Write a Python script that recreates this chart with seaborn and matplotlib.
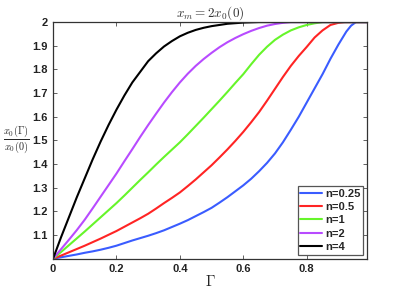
import numpy as np
import pandas as pd
import matplotlib
matplotlib.use('Agg')
import matplotlib.pyplot as plt
import seaborn as sns

# DATA

labels = ['n=0.25', 'n=0.5', 'n=1', 'n=2', 'n=4']
colors = ['#3a5cff', '#ff2424', '#66f52a', '#b84bff', '#000000']

g_025 = [0, 0.025, 0.05, 0.075, 0.1, 0.125, 0.15, 0.175, 0.2, 0.225, 0.25, 0.275, 0.3,
         0.325, 0.35, 0.375, 0.4, 0.425, 0.45, 0.475, 0.5, 0.525, 0.55, 0.575, 0.6,
         0.625, 0.65, 0.675, 0.7, 0.725, 0.75, 0.775, 0.8, 0.825, 0.85, 0.875, 0.9,
         0.925, 0.94, 0.955, 0.99]
v_025 = [1.0, 1.006, 1.012, 1.018, 1.025, 1.031, 1.038, 1.046, 1.055, 1.066, 1.077,
         1.087, 1.097, 1.108, 1.12, 1.134, 1.148, 1.163, 1.18, 1.197, 1.215, 1.237,
         1.26, 1.285, 1.31, 1.338, 1.37, 1.405, 1.445, 1.492, 1.545, 1.6, 1.66, 1.72,
         1.78, 1.845, 1.905, 1.96, 1.985, 2.0, 2.0]

g_05 = [0, 0.025, 0.05, 0.075, 0.1, 0.125, 0.15, 0.175, 0.2, 0.225, 0.25, 0.275, 0.3,
        0.325, 0.35, 0.375, 0.4, 0.425, 0.45, 0.475, 0.5, 0.525, 0.55, 0.575, 0.6,
        0.625, 0.65, 0.675, 0.7, 0.725, 0.75, 0.775, 0.8, 0.825, 0.85, 0.875, 0.9,
        0.92, 0.99]
v_05 = [1.0, 1.013, 1.027, 1.041, 1.055, 1.07, 1.085, 1.101, 1.117, 1.135, 1.153,
        1.171, 1.19, 1.212, 1.235, 1.257, 1.28, 1.307, 1.335, 1.365, 1.395, 1.428,
        1.462, 1.498, 1.536, 1.577, 1.62, 1.668, 1.718, 1.768, 1.815, 1.857, 1.895,
        1.935, 1.965, 1.988, 1.997, 2.0, 2.0]

g_1 = [0, 0.025, 0.05, 0.075, 0.1, 0.125, 0.15, 0.175, 0.2, 0.225, 0.25, 0.275, 0.3,
       0.325, 0.35, 0.375, 0.4, 0.425, 0.45, 0.475, 0.5, 0.525, 0.55, 0.575, 0.6,
       0.625, 0.65, 0.675, 0.7, 0.725, 0.75, 0.775, 0.8, 0.825, 0.85, 0.99]
v_1 = [1.0, 1.028, 1.057, 1.086, 1.115, 1.145, 1.175, 1.205, 1.235, 1.267, 1.30,
       1.333, 1.365, 1.398, 1.43, 1.461, 1.492, 1.526, 1.561, 1.596, 1.632, 1.668,
       1.705, 1.743, 1.78, 1.822, 1.862, 1.896, 1.925, 1.947, 1.965, 1.978, 1.988,
       1.995, 2.0, 2.0]

g_2 = [0, 0.025, 0.05, 0.075, 0.1, 0.125, 0.15, 0.175, 0.2, 0.225, 0.25, 0.275, 0.3,
       0.325, 0.35, 0.375, 0.4, 0.425, 0.45, 0.475, 0.5, 0.525, 0.55, 0.575, 0.6,
       0.625, 0.65, 0.675, 0.7, 0.725, 0.75, 0.99]
v_2 = [1.0, 1.04, 1.08, 1.121, 1.165, 1.213, 1.262, 1.311, 1.36, 1.412, 1.463, 1.515,
       1.565, 1.613, 1.66, 1.704, 1.745, 1.782, 1.815, 1.844, 1.87, 1.894, 1.915,
       1.933, 1.949, 1.963, 1.975, 1.985, 1.992, 1.997, 2.0, 2.0]

g_4 = [0, 0.025, 0.05, 0.075, 0.1, 0.125, 0.15, 0.175, 0.2, 0.225, 0.25, 0.275, 0.3,
       0.325, 0.35, 0.375, 0.4, 0.425, 0.45, 0.475, 0.5, 0.55, 0.6, 0.65, 0.99]
v_4 = [1.0, 1.09, 1.175, 1.26, 1.34, 1.42, 1.495, 1.565, 1.63, 1.69, 1.745, 1.79,
       1.835, 1.868, 1.897, 1.92, 1.94, 1.955, 1.967, 1.976, 1.983, 1.993, 1.998,
       2.0, 2.0]

x_ticks = [0, 0.2, 0.4, 0.6, 0.8]
x_tick_labels = ['0', '0.2', '0.4', '0.6', '0.8']
y_ticks = [1.1, 1.2, 1.3, 1.4, 1.5, 1.6, 1.7, 1.8, 1.9, 2.0]
y_tick_labels = ['1.1', '1.2', '1.3', '1.4', '1.5', '1.6', '1.7', '1.8', '1.9', '2']

# long-form table for seaborn
frames = []
for lab, g, v in zip(labels, [g_025, g_05, g_1, g_2, g_4], [v_025, v_05, v_1, v_2, v_4]):
    frames.append(pd.DataFrame({'gamma': g, 'ratio': v, 'n': lab}))
df = pd.concat(frames, ignore_index=True)

# PLOT

sns.set_style('ticks')
plt.rcParams['font.family'] = ['Liberation Sans', 'DejaVu Sans']
plt.rcParams['mathtext.fontset'] = 'cm'

fig = plt.figure(figsize=(4.05, 2.91), dpi=100)
ax = fig.add_axes([0.131, 0.111, 0.775, 0.813])

sns.lineplot(data=df, x='gamma', y='ratio', hue='n', hue_order=labels,
             palette=colors, sort=False, estimator=None, linewidth=1.5, ax=ax)

ax.set_xlim(0, 0.99)
ax.set_ylim(1.0, 2.0)
ax.set_xticks(x_ticks)
ax.set_xticklabels(x_tick_labels, fontsize=8, fontweight='bold')
ax.set_yticks(y_ticks)
ax.set_yticklabels(y_tick_labels, fontsize=8, fontweight='bold')
ax.tick_params(direction='in', length=3, width=0.5, top=True, right=True, pad=4,
               colors='#222222')
for sp in ax.spines.values():
    sp.set_visible(True)
    sp.set_linewidth(0.9)
    sp.set_color('#333333')

ax.set_title(r'$x_m = 2x_0(0)$', fontsize=9.5, color='#333333', pad=4)
ax.set_xlabel(r'$\Gamma$', fontsize=11, labelpad=0)
ax.set_ylabel(r'$\frac{x_0(\Gamma)}{x_0(0)}$', fontsize=10.5, rotation=0)
ax.yaxis.set_label_coords(-0.118, 0.5)
ax.yaxis.label.set_va('center')

leg = ax.legend(loc='lower right', frameon=True, fancybox=False,
                handlelength=1.9, handletextpad=0.3, borderpad=0.25, labelspacing=0.3,
                borderaxespad=0.35, prop={'weight': 'bold', 'size': 8})
leg.get_frame().set_edgecolor('#555555')
leg.get_frame().set_linewidth(0.9)
leg.get_frame().set_alpha(1)

fig.savefig('out.png', dpi=100)
